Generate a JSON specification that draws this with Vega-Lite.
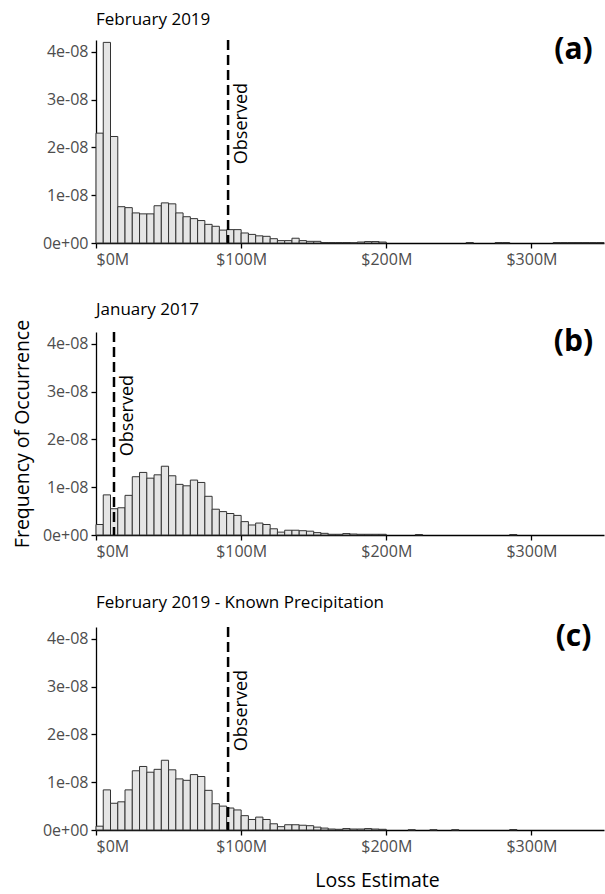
{
  "$schema": "https://vega.github.io/schema/vega-lite/v6.json",
  "padding": {"left": 12, "top": 10, "right": 0, "bottom": 2},
  "spacing": 34,
  "config": {
    "font": "Open Sans",
    "view": {"stroke": null},
    "axis": {"domainColor": "#000000", "domainWidth": 1.3, "tickColor": "#000000", "tickWidth": 1.3, "tickSize": 5, "labelColor": "#4d4d4d", "labelFontSize": 16, "labelFont": "Open Sans", "labelPadding": 3, "titleFont": "Open Sans", "titleFontSize": 19.5, "titleFontWeight": "normal", "titleColor": "#000000", "grid": false},
    "title": {"font": "Open Sans", "fontSize": 17, "fontWeight": "normal", "anchor": "start", "frame": "group", "offset": 6, "color": "#000000"}
  },
  "datasets": {
    "hist_a": [
      {"bin_start": 0, "bin_end": 5000000, "density": 2.30e-8},
      {"bin_start": 5000000, "bin_end": 10000000, "density": 4.20e-8},
      {"bin_start": 10000000, "bin_end": 15000000, "density": 2.23e-8},
      {"bin_start": 15000000, "bin_end": 20000000, "density": 0.76e-8},
      {"bin_start": 20000000, "bin_end": 25000000, "density": 0.74e-8},
      {"bin_start": 25000000, "bin_end": 30000000, "density": 0.63e-8},
      {"bin_start": 30000000, "bin_end": 35000000, "density": 0.61e-8},
      {"bin_start": 35000000, "bin_end": 40000000, "density": 0.61e-8},
      {"bin_start": 40000000, "bin_end": 45000000, "density": 0.78e-8},
      {"bin_start": 45000000, "bin_end": 50000000, "density": 0.84e-8},
      {"bin_start": 50000000, "bin_end": 55000000, "density": 0.82e-8},
      {"bin_start": 55000000, "bin_end": 60000000, "density": 0.63e-8},
      {"bin_start": 60000000, "bin_end": 65000000, "density": 0.55e-8},
      {"bin_start": 65000000, "bin_end": 70000000, "density": 0.51e-8},
      {"bin_start": 70000000, "bin_end": 75000000, "density": 0.47e-8},
      {"bin_start": 75000000, "bin_end": 80000000, "density": 0.39e-8},
      {"bin_start": 80000000, "bin_end": 85000000, "density": 0.35e-8},
      {"bin_start": 85000000, "bin_end": 90000000, "density": 0.27e-8},
      {"bin_start": 90000000, "bin_end": 95000000, "density": 0.28e-8},
      {"bin_start": 95000000, "bin_end": 100000000, "density": 0.28e-8},
      {"bin_start": 100000000, "bin_end": 105000000, "density": 0.21e-8},
      {"bin_start": 105000000, "bin_end": 110000000, "density": 0.18e-8},
      {"bin_start": 110000000, "bin_end": 115000000, "density": 0.15e-8},
      {"bin_start": 115000000, "bin_end": 120000000, "density": 0.14e-8},
      {"bin_start": 120000000, "bin_end": 125000000, "density": 0.09e-8},
      {"bin_start": 125000000, "bin_end": 130000000, "density": 0.05e-8},
      {"bin_start": 130000000, "bin_end": 135000000, "density": 0.05e-8},
      {"bin_start": 135000000, "bin_end": 140000000, "density": 0.10e-8},
      {"bin_start": 140000000, "bin_end": 145000000, "density": 0.05e-8},
      {"bin_start": 145000000, "bin_end": 150000000, "density": 0.035e-8},
      {"bin_start": 150000000, "bin_end": 155000000, "density": 0.035e-8},
      {"bin_start": 155000000, "bin_end": 160000000, "density": 0.01e-8},
      {"bin_start": 160000000, "bin_end": 165000000, "density": 0.01e-8},
      {"bin_start": 165000000, "bin_end": 170000000, "density": 0.01e-8},
      {"bin_start": 170000000, "bin_end": 175000000, "density": 0.01e-8},
      {"bin_start": 175000000, "bin_end": 180000000, "density": 0.005e-8},
      {"bin_start": 180000000, "bin_end": 185000000, "density": 0.02e-8},
      {"bin_start": 185000000, "bin_end": 190000000, "density": 0.03e-8},
      {"bin_start": 190000000, "bin_end": 195000000, "density": 0.03e-8},
      {"bin_start": 195000000, "bin_end": 200000000, "density": 0.02e-8},
      {"bin_start": 255000000, "bin_end": 260000000, "density": 0.01e-8},
      {"bin_start": 275000000, "bin_end": 280000000, "density": 0.01e-8},
      {"bin_start": 280000000, "bin_end": 285000000, "density": 0.01e-8},
      {"bin_start": 315000000, "bin_end": 320000000, "density": 0.01e-8},
      {"bin_start": 320000000, "bin_end": 325000000, "density": 0.01e-8},
      {"bin_start": 325000000, "bin_end": 330000000, "density": 0.01e-8},
      {"bin_start": 330000000, "bin_end": 335000000, "density": 0.01e-8},
      {"bin_start": 335000000, "bin_end": 340000000, "density": 0.01e-8},
      {"bin_start": 340000000, "bin_end": 345000000, "density": 0.01e-8},
      {"bin_start": 345000000, "bin_end": 350000000, "density": 0.01e-8}
    ],
    "hist_b": [
      {"bin_start": 0, "bin_end": 5000000, "density": 0.22e-8},
      {"bin_start": 5000000, "bin_end": 10000000, "density": 0.84e-8},
      {"bin_start": 10000000, "bin_end": 15000000, "density": 0.55e-8},
      {"bin_start": 15000000, "bin_end": 20000000, "density": 0.57e-8},
      {"bin_start": 20000000, "bin_end": 25000000, "density": 0.83e-8},
      {"bin_start": 25000000, "bin_end": 30000000, "density": 1.22e-8},
      {"bin_start": 30000000, "bin_end": 35000000, "density": 1.31e-8},
      {"bin_start": 35000000, "bin_end": 40000000, "density": 1.19e-8},
      {"bin_start": 40000000, "bin_end": 45000000, "density": 1.26e-8},
      {"bin_start": 45000000, "bin_end": 50000000, "density": 1.44e-8},
      {"bin_start": 50000000, "bin_end": 55000000, "density": 1.24e-8},
      {"bin_start": 55000000, "bin_end": 60000000, "density": 1.06e-8},
      {"bin_start": 60000000, "bin_end": 65000000, "density": 1.03e-8},
      {"bin_start": 65000000, "bin_end": 70000000, "density": 1.15e-8},
      {"bin_start": 70000000, "bin_end": 75000000, "density": 1.10e-8},
      {"bin_start": 75000000, "bin_end": 80000000, "density": 0.81e-8},
      {"bin_start": 80000000, "bin_end": 85000000, "density": 0.54e-8},
      {"bin_start": 85000000, "bin_end": 90000000, "density": 0.49e-8},
      {"bin_start": 90000000, "bin_end": 95000000, "density": 0.45e-8},
      {"bin_start": 95000000, "bin_end": 100000000, "density": 0.41e-8},
      {"bin_start": 100000000, "bin_end": 105000000, "density": 0.28e-8},
      {"bin_start": 105000000, "bin_end": 110000000, "density": 0.21e-8},
      {"bin_start": 110000000, "bin_end": 115000000, "density": 0.25e-8},
      {"bin_start": 115000000, "bin_end": 120000000, "density": 0.22e-8},
      {"bin_start": 120000000, "bin_end": 125000000, "density": 0.13e-8},
      {"bin_start": 125000000, "bin_end": 130000000, "density": 0.06e-8},
      {"bin_start": 130000000, "bin_end": 135000000, "density": 0.10e-8},
      {"bin_start": 135000000, "bin_end": 140000000, "density": 0.10e-8},
      {"bin_start": 140000000, "bin_end": 145000000, "density": 0.09e-8},
      {"bin_start": 145000000, "bin_end": 150000000, "density": 0.08e-8},
      {"bin_start": 150000000, "bin_end": 155000000, "density": 0.05e-8},
      {"bin_start": 155000000, "bin_end": 160000000, "density": 0.035e-8},
      {"bin_start": 160000000, "bin_end": 165000000, "density": 0.015e-8},
      {"bin_start": 165000000, "bin_end": 170000000, "density": 0.015e-8},
      {"bin_start": 170000000, "bin_end": 175000000, "density": 0.03e-8},
      {"bin_start": 175000000, "bin_end": 180000000, "density": 0.02e-8},
      {"bin_start": 180000000, "bin_end": 185000000, "density": 0.015e-8},
      {"bin_start": 185000000, "bin_end": 190000000, "density": 0.015e-8},
      {"bin_start": 190000000, "bin_end": 195000000, "density": 0.015e-8},
      {"bin_start": 195000000, "bin_end": 200000000, "density": 0.015e-8},
      {"bin_start": 220000000, "bin_end": 225000000, "density": 0.01e-8},
      {"bin_start": 285000000, "bin_end": 290000000, "density": 0.01e-8}
    ],
    "hist_c": [
      {"bin_start": 0, "bin_end": 5000000, "density": 0.08e-8},
      {"bin_start": 5000000, "bin_end": 10000000, "density": 0.84e-8},
      {"bin_start": 10000000, "bin_end": 15000000, "density": 0.56e-8},
      {"bin_start": 15000000, "bin_end": 20000000, "density": 0.59e-8},
      {"bin_start": 20000000, "bin_end": 25000000, "density": 0.84e-8},
      {"bin_start": 25000000, "bin_end": 30000000, "density": 1.24e-8},
      {"bin_start": 30000000, "bin_end": 35000000, "density": 1.33e-8},
      {"bin_start": 35000000, "bin_end": 40000000, "density": 1.21e-8},
      {"bin_start": 40000000, "bin_end": 45000000, "density": 1.27e-8},
      {"bin_start": 45000000, "bin_end": 50000000, "density": 1.46e-8},
      {"bin_start": 50000000, "bin_end": 55000000, "density": 1.26e-8},
      {"bin_start": 55000000, "bin_end": 60000000, "density": 1.07e-8},
      {"bin_start": 60000000, "bin_end": 65000000, "density": 1.04e-8},
      {"bin_start": 65000000, "bin_end": 70000000, "density": 1.16e-8},
      {"bin_start": 70000000, "bin_end": 75000000, "density": 1.12e-8},
      {"bin_start": 75000000, "bin_end": 80000000, "density": 0.83e-8},
      {"bin_start": 80000000, "bin_end": 85000000, "density": 0.55e-8},
      {"bin_start": 85000000, "bin_end": 90000000, "density": 0.50e-8},
      {"bin_start": 90000000, "bin_end": 95000000, "density": 0.46e-8},
      {"bin_start": 95000000, "bin_end": 100000000, "density": 0.42e-8},
      {"bin_start": 100000000, "bin_end": 105000000, "density": 0.30e-8},
      {"bin_start": 105000000, "bin_end": 110000000, "density": 0.22e-8},
      {"bin_start": 110000000, "bin_end": 115000000, "density": 0.27e-8},
      {"bin_start": 115000000, "bin_end": 120000000, "density": 0.22e-8},
      {"bin_start": 120000000, "bin_end": 125000000, "density": 0.13e-8},
      {"bin_start": 125000000, "bin_end": 130000000, "density": 0.07e-8},
      {"bin_start": 130000000, "bin_end": 135000000, "density": 0.11e-8},
      {"bin_start": 135000000, "bin_end": 140000000, "density": 0.11e-8},
      {"bin_start": 140000000, "bin_end": 145000000, "density": 0.10e-8},
      {"bin_start": 145000000, "bin_end": 150000000, "density": 0.09e-8},
      {"bin_start": 150000000, "bin_end": 155000000, "density": 0.06e-8},
      {"bin_start": 155000000, "bin_end": 160000000, "density": 0.04e-8},
      {"bin_start": 160000000, "bin_end": 165000000, "density": 0.02e-8},
      {"bin_start": 165000000, "bin_end": 170000000, "density": 0.015e-8},
      {"bin_start": 170000000, "bin_end": 175000000, "density": 0.03e-8},
      {"bin_start": 175000000, "bin_end": 180000000, "density": 0.02e-8},
      {"bin_start": 180000000, "bin_end": 185000000, "density": 0.02e-8},
      {"bin_start": 185000000, "bin_end": 190000000, "density": 0.03e-8},
      {"bin_start": 190000000, "bin_end": 195000000, "density": 0.02e-8},
      {"bin_start": 195000000, "bin_end": 200000000, "density": 0.015e-8},
      {"bin_start": 215000000, "bin_end": 220000000, "density": 0.005e-8},
      {"bin_start": 230000000, "bin_end": 235000000, "density": 0.005e-8},
      {"bin_start": 245000000, "bin_end": 250000000, "density": 0.005e-8},
      {"bin_start": 285000000, "bin_end": 290000000, "density": 0.01e-8}
    ]
  },
  "vconcat": [
    {
      "title": "February 2019",
      "width": 508,
      "height": 203,
      "layer": [
        {
          "data": {"name": "hist_a"},
          "mark": {"type": "rect", "fill": "#e5e5e5", "stroke": "#333333", "strokeWidth": 1},
          "encoding": {
            "x": {"field": "bin_start", "type": "quantitative", "scale": {"domain": [0, 350000000], "nice": false, "zero": false}, "axis": {"title": null, "values": [0, 100000000, 200000000, 300000000], "labelExpr": "'$' + round(datum.value / 1000000) + 'M'"}},
            "x2": {"field": "bin_end"},
            "y": {"field": "density", "type": "quantitative", "scale": {"domain": [0, 4.25e-8], "nice": false}, "axis": {"title": null, "values": [0, 1e-8, 2e-8, 3e-8, 4e-8], "labelExpr": "datum.value == 0 ? '0e+00' : round(datum.value * 1e8) + 'e-08'"}}
          }
        },
        {
          "data": {"values": [{"observed": 91000000, "note": "Observed"}]},
          "mark": {"type": "rule", "strokeDash": [10, 5], "strokeWidth": 2.5, "color": "#000000"},
          "encoding": {"x": {"field": "observed", "type": "quantitative"}}
        },
        {
          "data": {"values": [{"observed": 91000000, "note": "Observed"}]},
          "mark": {"type": "text", "angle": 270, "align": "center", "baseline": "top", "dy": 5, "fontSize": 18, "color": "#000000"},
          "encoding": {"x": {"field": "observed", "type": "quantitative"}, "y": {"datum": 2.5e-8}, "text": {"field": "note"}}
        },
        {
          "data": {"values": [{"panel": "(a)"}]},
          "mark": {"type": "text", "fontSize": 30, "fontWeight": "bold", "align": "center", "baseline": "middle", "color": "#000000"},
          "encoding": {"x": {"datum": 329000000}, "y": {"datum": 4.05e-8}, "text": {"field": "panel"}}
        }
      ]
    },
    {
      "title": {"text": "January 2017", "offset": 0},
      "width": 508,
      "height": 203,
      "layer": [
        {
          "data": {"name": "hist_b"},
          "mark": {"type": "rect", "fill": "#e5e5e5", "stroke": "#333333", "strokeWidth": 1},
          "encoding": {
            "x": {"field": "bin_start", "type": "quantitative", "scale": {"domain": [0, 350000000], "nice": false, "zero": false}, "axis": {"title": null, "values": [0, 100000000, 200000000, 300000000], "labelExpr": "'$' + round(datum.value / 1000000) + 'M'"}},
            "x2": {"field": "bin_end"},
            "y": {"field": "density", "type": "quantitative", "scale": {"domain": [0, 4.25e-8], "nice": false}, "axis": {"title": "Frequency of Occurrence", "titlePadding": 10, "values": [0, 1e-8, 2e-8, 3e-8, 4e-8], "labelExpr": "datum.value == 0 ? '0e+00' : round(datum.value * 1e8) + 'e-08'"}}
          }
        },
        {
          "data": {"values": [{"observed": 12400000, "note": "Observed"}]},
          "mark": {"type": "rule", "strokeDash": [10, 5], "strokeWidth": 2.5, "color": "#000000"},
          "encoding": {"x": {"field": "observed", "type": "quantitative"}}
        },
        {
          "data": {"values": [{"observed": 12400000, "note": "Observed"}]},
          "mark": {"type": "text", "angle": 270, "align": "center", "baseline": "top", "dy": 5, "fontSize": 18, "color": "#000000"},
          "encoding": {"x": {"field": "observed", "type": "quantitative"}, "y": {"datum": 2.5e-8}, "text": {"field": "note"}}
        },
        {
          "data": {"values": [{"panel": "(b)"}]},
          "mark": {"type": "text", "fontSize": 30, "fontWeight": "bold", "align": "center", "baseline": "middle", "color": "#000000"},
          "encoding": {"x": {"datum": 329000000}, "y": {"datum": 4.05e-8}, "text": {"field": "panel"}}
        }
      ]
    },
    {
      "title": {"text": "February 2019 - Known Precipitation", "offset": 10},
      "width": 508,
      "height": 203,
      "layer": [
        {
          "data": {"name": "hist_c"},
          "mark": {"type": "rect", "fill": "#e5e5e5", "stroke": "#333333", "strokeWidth": 1},
          "encoding": {
            "x": {"field": "bin_start", "type": "quantitative", "scale": {"domain": [0, 350000000], "nice": false, "zero": false}, "axis": {"title": "Loss Estimate", "titleX": 281, "titlePadding": 17, "values": [0, 100000000, 200000000, 300000000], "labelExpr": "'$' + round(datum.value / 1000000) + 'M'"}},
            "x2": {"field": "bin_end"},
            "y": {"field": "density", "type": "quantitative", "scale": {"domain": [0, 4.25e-8], "nice": false}, "axis": {"title": null, "values": [0, 1e-8, 2e-8, 3e-8, 4e-8], "labelExpr": "datum.value == 0 ? '0e+00' : round(datum.value * 1e8) + 'e-08'"}}
          }
        },
        {
          "data": {"values": [{"observed": 91000000, "note": "Observed"}]},
          "mark": {"type": "rule", "strokeDash": [10, 5], "strokeWidth": 2.5, "color": "#000000"},
          "encoding": {"x": {"field": "observed", "type": "quantitative"}}
        },
        {
          "data": {"values": [{"observed": 91000000, "note": "Observed"}]},
          "mark": {"type": "text", "angle": 270, "align": "center", "baseline": "top", "dy": 5, "fontSize": 18, "color": "#000000"},
          "encoding": {"x": {"field": "observed", "type": "quantitative"}, "y": {"datum": 2.5e-8}, "text": {"field": "note"}}
        },
        {
          "data": {"values": [{"panel": "(c)"}]},
          "mark": {"type": "text", "fontSize": 30, "fontWeight": "bold", "align": "center", "baseline": "middle", "color": "#000000"},
          "encoding": {"x": {"datum": 329000000}, "y": {"datum": 4.05e-8}, "text": {"field": "panel"}}
        }
      ]
    }
  ]
}
